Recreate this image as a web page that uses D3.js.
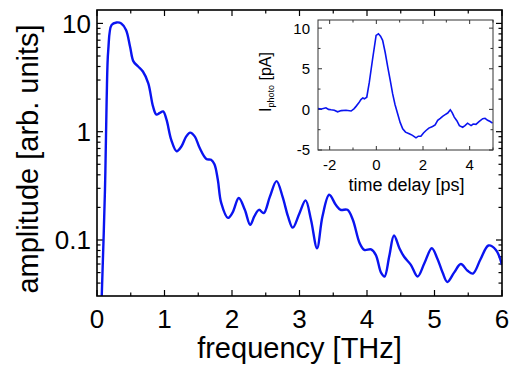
<!DOCTYPE html>
<html><head><meta charset="utf-8">
<script src="https://cdn.jsdelivr.net/npm/d3@7"></script>
<style>body{margin:0;background:#fff}svg{display:block}text{font-family:"Liberation Sans",Arial,sans-serif;fill:#000}</style>
</head><body>
<script>
// Main spectrum
const freq = [0.05,0.07,0.118,0.143,0.167,0.217,0.29,0.36,0.43,0.49,0.54,0.61,0.68,0.76,0.83,0.88,0.93,0.98,1.03,1.10,1.18,1.25,1.32,1.38,1.45,1.52,1.62,1.69,1.74,1.79,1.84,1.94,2.01,2.10,2.19,2.27,2.33,2.40,2.47,2.56,2.66,2.75,2.83,2.90,3.00,3.09,3.17,3.26,3.34,3.44,3.54,3.61,3.71,3.79,3.89,3.96,4.06,4.13,4.21,4.26,4.33,4.40,4.48,4.55,4.65,4.75,4.85,4.96,5.04,5.12,5.19,5.29,5.39,5.49,5.57,5.68,5.80,5.91,6.00];
const amplitude = [0.012,0.03,0.29,1.97,5.7,9.7,10.2,10.0,8.7,6.1,4.46,4.0,3.6,2.8,1.71,1.44,1.49,1.54,1.29,0.84,0.66,0.73,0.90,0.98,0.90,0.71,0.56,0.55,0.50,0.36,0.22,0.16,0.18,0.244,0.19,0.138,0.165,0.19,0.177,0.25,0.35,0.25,0.165,0.13,0.177,0.232,0.154,0.084,0.165,0.262,0.21,0.19,0.19,0.154,0.094,0.081,0.082,0.073,0.0496,0.046,0.071,0.11,0.084,0.07,0.059,0.046,0.061,0.084,0.068,0.05,0.041,0.05,0.06,0.052,0.049,0.066,0.089,0.081,0.059];
const xTicks = [0,1,2,3,4,5,6];
const yTickLabels = [{v:0.1,t:"0.1"},{v:1,t:"1"},{v:10,t:"10"}];
// Inset time trace
const delay = [-2.51,-2.35,-2.16,-2.05,-1.94,-1.80,-1.66,-1.50,-1.30,-1.08,-0.95,-0.87,-0.75,-0.66,-0.58,-0.51,-0.41,-0.30,-0.16,-0.01,0.09,0.18,0.27,0.38,0.49,0.60,0.70,0.80,0.91,1.02,1.13,1.25,1.41,1.55,1.70,1.80,1.91,2.02,2.13,2.25,2.41,2.52,2.63,2.74,2.84,2.95,3.06,3.17,3.25,3.34,3.45,3.56,3.70,3.80,3.91,4.06,4.15,4.27,4.40,4.56,4.66,4.77,4.88,4.98];
const current = [0.1,0.05,0.2,0.0,-0.05,-0.1,-0.3,-0.15,-0.1,-0.2,0.1,0.37,0.8,1.2,1.4,1.3,1.5,3.35,6.2,9.1,9.3,9.0,8.5,7.0,5.2,3.5,1.9,0.6,-0.5,-1.6,-2.4,-2.8,-3.0,-3.2,-3.5,-3.3,-3.3,-2.9,-2.6,-2.3,-2.1,-1.9,-1.35,-1.1,-0.85,-0.65,-0.45,-0.05,-0.4,-0.95,-1.4,-2.0,-2.2,-2.0,-1.7,-2.0,-1.8,-1.85,-1.5,-1.15,-1.1,-1.35,-1.5,-1.7];
const insetXTicks = [-2,0,2,4];
const insetYTicks = [-5,0,5,10];

const W=510,H=372;
const svg=d3.select("body").append("svg").attr("width",W).attr("height",H);
const L=97,R=502,T=10,B=296;
const x=d3.scaleLinear().domain([0,6]).range([L,R]);
const y=d3.scaleLog().domain([0.0304,13.3]).range([B,T]);

svg.append("defs").append("clipPath").attr("id","cm").append("rect").attr("x",L).attr("y",T).attr("width",R-L).attr("height",B-T);

// minor/major ticks main
const tk=svg.append("g").attr("stroke","#000").attr("stroke-width",1.2);
const xMinor=d3.range(0,6.01,0.5);
xMinor.forEach(v=>{const len=(Math.abs(v-Math.round(v))<1e-6)?6:3.5;
  tk.append("line").attr("x1",x(v)).attr("x2",x(v)).attr("y1",B).attr("y2",B-len);
  tk.append("line").attr("x1",x(v)).attr("x2",x(v)).attr("y1",T).attr("y2",T+len);});
const yt=[];
[0.01,0.1,1,10].forEach(d=>{for(let k=1;k<=9;k++){const v=d*k; if(v>=0.0304&&v<=13.3) yt.push({v,major:k===1});}});
yt.forEach(o=>{const len=o.major?6:3.5;
  tk.append("line").attr("x1",L).attr("x2",L+len).attr("y1",y(o.v)).attr("y2",y(o.v));
  tk.append("line").attr("x1",R).attr("x2",R-len).attr("y1",y(o.v)).attr("y2",y(o.v));});

// curve
svg.append("path").datum(freq.map((f,i)=>[f,amplitude[i]]))
  .attr("clip-path","url(#cm)")
  .attr("fill","none").attr("stroke","#0a14f0").attr("stroke-width",2.4)
  .attr("d",d3.line().x(d=>x(d[0])).y(d=>y(d[1])).curve(d3.curveCatmullRom.alpha(0.5)));

svg.append("rect").attr("x",L).attr("y",T).attr("width",R-L).attr("height",B-T)
  .attr("fill","none").attr("stroke","#000").attr("stroke-width",1.6);

// labels main
svg.append("g").selectAll("text").data(xTicks).join("text")
  .attr("x",d=>x(d)).attr("y",328).attr("text-anchor","middle").attr("font-size",26).text(d=>d);
svg.append("g").selectAll("text").data(yTickLabels).join("text")
  .attr("x",91).attr("y",d=>y(d.v)).attr("dy","0.36em").attr("text-anchor","end").attr("font-size",26).text(d=>d.t);
svg.append("text").attr("x",(L+R)/2).attr("y",358).attr("text-anchor","middle").attr("font-size",29).text("frequency [THz]");
svg.append("text").attr("transform","translate(38,159) rotate(-90)").attr("text-anchor","middle").attr("font-size",29).text("amplitude [arb. units]");

// inset
const iL=318,iR=493,iT=20,iB=150;
const ix=d3.scaleLinear().domain([-2.5,5]).range([iL,iR]);
const iy=d3.scaleLinear().domain([-5,11]).range([iB,iT]);
svg.append("rect").attr("x",iL).attr("y",iT).attr("width",iR-iL).attr("height",iB-iT).attr("fill","#fff");
svg.append("defs").append("clipPath").attr("id","ci").append("rect").attr("x",iL).attr("y",iT).attr("width",iR-iL).attr("height",iB-iT);
const itk=svg.append("g").attr("stroke","#333").attr("stroke-width",1);
d3.range(-2,5.01,1).forEach(v=>{const len=(v%2===0)?4:2.5;
  itk.append("line").attr("x1",ix(v)).attr("x2",ix(v)).attr("y1",iB).attr("y2",iB-len);
  itk.append("line").attr("x1",ix(v)).attr("x2",ix(v)).attr("y1",iT).attr("y2",iT+len);});
d3.range(-5,11.01,2.5).forEach(v=>{const len=(v%5===0)?4:2.5;
  itk.append("line").attr("x1",iL).attr("x2",iL+len).attr("y1",iy(v)).attr("y2",iy(v));
  itk.append("line").attr("x1",iR).attr("x2",iR-len).attr("y1",iy(v)).attr("y2",iy(v));});
svg.append("path").datum(delay.map((t,i)=>[t,current[i]]))
  .attr("clip-path","url(#ci)")
  .attr("fill","none").attr("stroke","#0a14f0").attr("stroke-width",1.6)
  .attr("d",d3.line().x(d=>ix(d[0])).y(d=>iy(d[1])));
svg.append("rect").attr("x",iL).attr("y",iT).attr("width",iR-iL).attr("height",iB-iT)
  .attr("fill","none").attr("stroke","#333").attr("stroke-width",1);
svg.append("g").selectAll("text").data(insetXTicks).join("text")
  .attr("x",d=>ix(d)).attr("y",170).attr("text-anchor","middle").attr("font-size",15).text(d=>d);
svg.append("g").selectAll("text").data(insetYTicks).join("text")
  .attr("x",310).attr("y",d=>iy(d)).attr("dy","0.36em").attr("text-anchor","end").attr("font-size",15).text(d=>d);
svg.append("text").attr("x",(iL+iR)/2+1).attr("y",191).attr("text-anchor","middle").attr("font-size",18).text("time delay [ps]");
const yl=svg.append("text").attr("transform","translate(271,82) rotate(-90)").attr("text-anchor","middle").attr("font-size",16);
yl.append("tspan").text("I");
yl.append("tspan").attr("font-size",9).attr("dy",3).text("photo");
yl.append("tspan").attr("dy",-3).text(" [pA]");
</script>
</body></html>
